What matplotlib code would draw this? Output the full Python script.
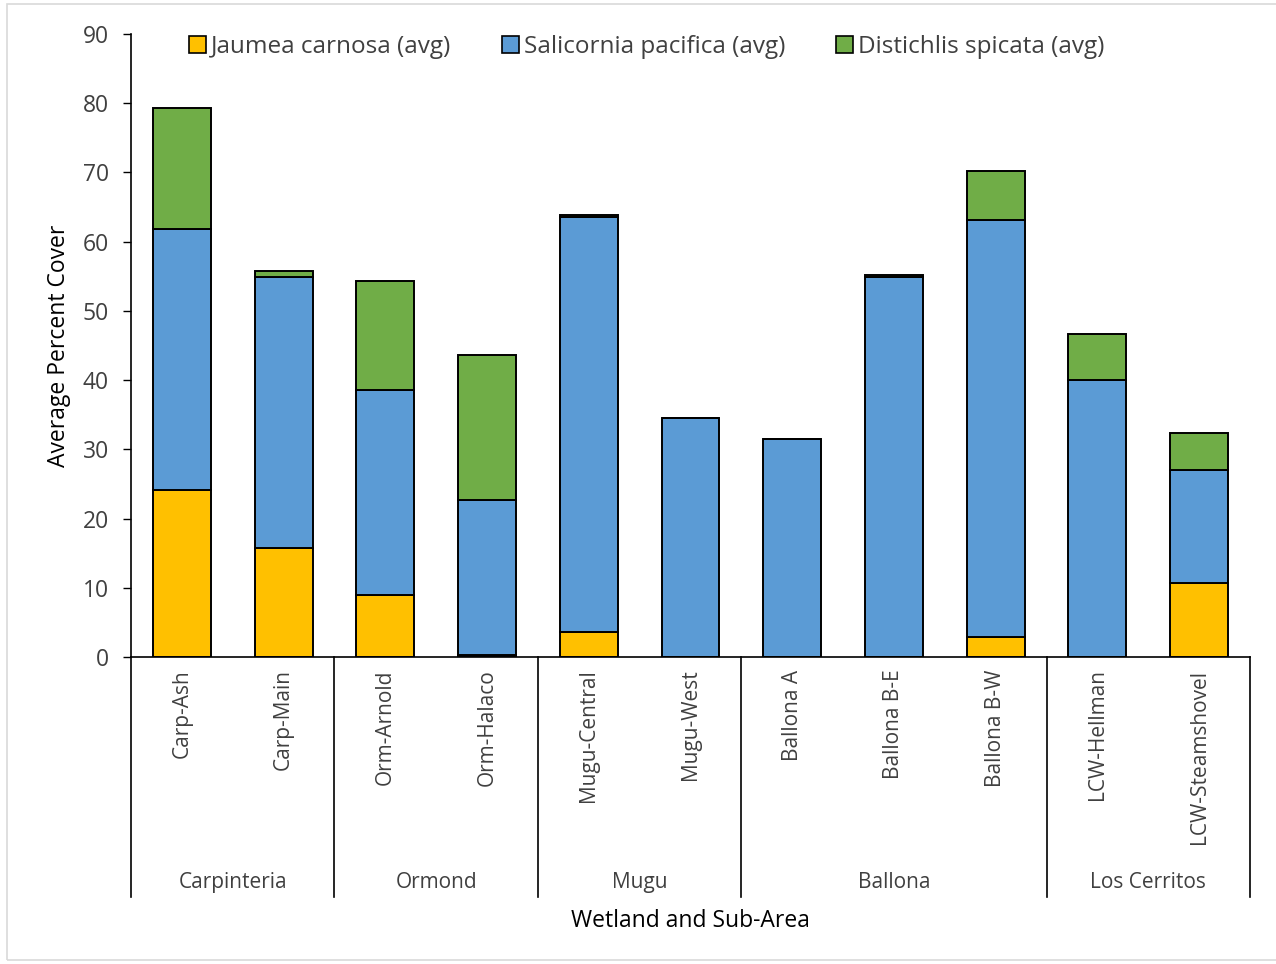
import matplotlib.pyplot as plt
from matplotlib.patches import Rectangle, Patch
import matplotlib.transforms as mtransforms

plt.rcParams['font.family'] = ['Open Sans', 'DejaVu Sans']

sites = ['Carp-Ash', 'Carp-Main', 'Orm-Arnold', 'Orm-Halaco', 'Mugu-Central',
         'Mugu-West', 'Ballona A', 'Ballona B-E', 'Ballona B-W',
         'LCW-Hellman', 'LCW-Steamshovel']
wetlands = ['Carpinteria', 'Ormond', 'Mugu', 'Ballona', 'Los Cerritos']
group_sizes = [2, 2, 2, 3, 2]

jaumea = [24.1, 15.7, 9.0, 0.3, 3.6, 0.0, 0.0, 0.0, 2.9, 0.0, 10.7]
salicornia = [37.7, 39.2, 29.6, 22.4, 60.0, 34.5, 31.5, 54.9, 60.2, 40.0, 16.3]
distichlis = [17.5, 0.9, 15.7, 20.9, 0.3, 0.0, 0.0, 0.3, 7.1, 6.7, 5.4]

species = ['Jaumea carnosa (avg)', 'Salicornia pacifica (avg)', 'Distichlis spicata (avg)']
colors = ['#FFC000', '#5B9BD5', '#70AD47']

fig = plt.figure(figsize=(12.76, 9.64), dpi=100)
ax = fig.add_axes([131 / 1276, 1 - 657 / 964, (1250 - 131) / 1276, (657 - 34) / 964])

x = list(range(len(sites)))
bottom = [0.0] * len(sites)
for vals, col in zip([jaumea, salicornia, distichlis], colors):
    ax.bar(x, vals, width=0.57, bottom=bottom, color=col, edgecolor='black', linewidth=1.4, zorder=2)
    bottom = [b + v for b, v in zip(bottom, vals)]

ax.set_xlim(-0.5, len(sites) - 0.5)
ax.set_ylim(0, 90)
ax.set_yticks(range(0, 91, 10))
ax.tick_params(axis='y', labelsize=16.5, labelcolor='#404040', length=6, width=1, direction='out', pad=10)
ax.set_xticks(x)
ax.set_xticklabels(sites, rotation=90, va='top', ha='center')
ax.tick_params(axis='x', labelsize=15, labelcolor='#404040', length=0, pad=9)
for s in ['top', 'right']:
    ax.spines[s].set_visible(False)
ax.spines['left'].set_linewidth(1.2)
ax.spines['bottom'].set_linewidth(1.2)

ax.set_ylabel('Average Percent Cover', fontsize=16.5, labelpad=8)

# wetland group separators and labels under the site names
trans = mtransforms.blended_transform_factory(ax.transData, ax.transAxes)
edges = [-0.5]
for n in group_sizes:
    edges.append(edges[-1] + n)
for e in edges:
    ax.plot([e, e], [0, -0.385], color='black', lw=1.2, transform=trans, clip_on=False)
for name, a, b in zip(wetlands, edges[:-1], edges[1:]):
    ax.text((a + b) / 2, -0.362, name, transform=trans, ha='center', va='center',
            fontsize=15, color='#404040')
ax.text(0.5, -0.423, 'Wetland and Sub-Area', transform=ax.transAxes, ha='center',
        va='center', fontsize=16.5)

handles = [Patch(facecolor=c, edgecolor='black', linewidth=1.2) for c in colors]
ax.legend(handles, species, loc='upper center', bbox_to_anchor=(0.461, 1.034), ncol=3,
          frameon=False, fontsize=17.5, handlelength=0.7, handleheight=0.7,
          handletextpad=0.2, columnspacing=2.1, labelcolor='#404040')

fig.patches.append(Rectangle((7 / 1276, 4 / 964), 1.0, 956 / 964, transform=fig.transFigure,
                             fill=False, edgecolor='#d9d9d9', lw=1.2))

fig.savefig('out.png', dpi=100)
